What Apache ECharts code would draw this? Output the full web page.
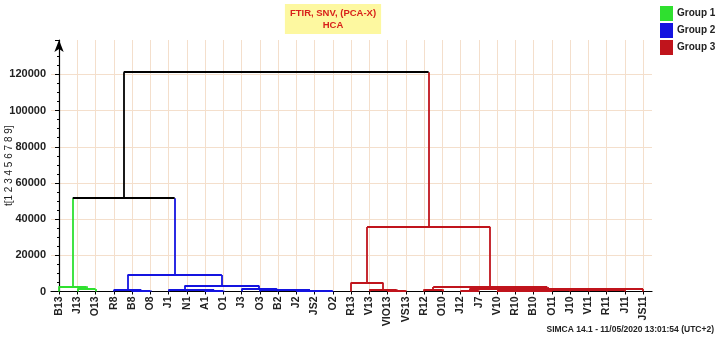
<!DOCTYPE html>
<html>
<head>
<meta charset="utf-8">
<script src="https://cdn.jsdelivr.net/npm/echarts@6/dist/echarts.min.js"></script>
<style>
  html, body { margin: 0; padding: 0; background: #fff; }
  #chart { width: 716px; height: 339px; }
</style>
</head>
<body>
<div id="chart"></div>
<script>
'use strict';

// leaf order along the x axis
var leaves = ['B13', 'J13', 'O13', 'R8', 'B8', 'O8', 'J1', 'N1', 'A1', 'O1', 'J3', 'O3', 'B2', 'J2', 'JS2', 'O2',
  'R13', 'V13', 'VIO13', 'VS13', 'R12', 'O10', 'J12', 'J7', 'V10', 'R10', 'B10', 'O11', 'J10', 'V11', 'R11', 'J11', 'JS11'];
var leafGroup = [1, 1, 1,
  2, 2, 2, 2, 2, 2, 2, 2, 2, 2, 2, 2, 2,
  3, 3, 3, 3, 3, 3, 3, 3, 3, 3, 3, 3, 3, 3, 3, 3, 3];

// [node, left, right, height, group]  (group 0 = black link)
var linkage = [
  ['n1', 'J13', 'O13', 1400, 1],
  ['n2', 'B13', 'n1', 2900, 1],
  ['n3', 'B8', 'O8', 600, 2],
  ['n4', 'R8', 'n3', 1000, 2],
  ['n5', 'A1', 'O1', 400, 2],
  ['n6', 'N1', 'n5', 700, 2],
  ['n7', 'J1', 'n6', 1100, 2],
  ['n8', 'JS2', 'O2', 300, 2],
  ['n9', 'J2', 'n8', 500, 2],
  ['n10', 'B2', 'n9', 800, 2],
  ['n11', 'O3', 'n10', 1200, 2],
  ['n12', 'J3', 'n11', 1500, 2],
  ['n13', 'n7', 'n12', 3200, 2],
  ['n14', 'n4', 'n13', 9100, 2],
  ['n15', 'n2', 'n14', 51600, 0],
  ['n16', 'VIO13', 'VS13', 600, 3],
  ['n17', 'V13', 'n16', 1100, 3],
  ['n18', 'R13', 'n17', 5000, 3],
  ['n19', 'R12', 'O10', 1200, 3],
  ['n20', 'J12', 'J7', 400, 3],
  ['n21', 'V10', 'R10', 300, 3],
  ['n22', 'n21', 'B10', 450, 3],
  ['n23', 'n22', 'O11', 600, 3],
  ['n24', 'n23', 'J10', 750, 3],
  ['n25', 'n24', 'V11', 900, 3],
  ['n26', 'n25', 'R11', 1050, 3],
  ['n27', 'n26', 'J11', 1200, 3],
  ['n28', 'n27', 'JS11', 1400, 3],
  ['n29', 'n20', 'n28', 1700, 3],
  ['n30', 'n19', 'n29', 2500, 3],
  ['n31', 'n18', 'n30', 35700, 3],
  ['n32', 'n15', 'n31', 121200, 0]
];

var groupNames = ['Link', 'Group 1', 'Group 2', 'Group 3'];
var groupColors = ['#000000', '#2fe02f', '#1414e0', '#c0141c'];

// build segments: node x = mean of children x
var pos = {};
var segs = [[], [], [], []];
leaves.forEach(function (name, i) {
  pos[name] = { x: i, y: 0, g: leafGroup[i] };
});
linkage.forEach(function (row) {
  var L = pos[row[1]], R = pos[row[2]], h = row[3], g = row[4];
  segs[L.g].push({ coords: [[L.x, L.y], [L.x, h]] });
  segs[R.g].push({ coords: [[R.x, R.y], [R.x, h]] });
  segs[g].push({ coords: [[L.x, h], [R.x, h]] });
  pos[row[0]] = { x: (L.x + R.x) / 2, y: h, g: g };
});

var gridColor = '#f4dfcc';
var leafTicks = leaves.map(function (n, i) { return i; });

var option = {
  animation: false,
  title: [{
    text: 'FTIR, SNV, (PCA-X)\nHCA',
    left: 328,
    top: 4,
    textAlign: 'center',
    backgroundColor: '#fdf8a0',
    padding: [3, 5, 3, 5],
    textStyle: {
      color: '#d8201a',
      fontSize: 9.5,
      fontWeight: 'bold',
      fontFamily: 'Liberation Sans',
      lineHeight: 12
    }
  }, {
    text: 'SIMCA 14.1 - 11/05/2020 13:01:54 (UTC+2)',
    right: 2,
    bottom: 5,
    padding: 0,
    textStyle: {
      color: '#222',
      fontSize: 8.5,
      fontWeight: 'bold',
      fontFamily: 'Liberation Sans'
    }
  }],
  legend: {
    orient: 'vertical',
    left: 655,
    top: 1,
    itemWidth: 11,
    itemHeight: 13,
    itemGap: 2,
    icon: 'rect',
    data: ['Group 1', 'Group 2', 'Group 3'],
    textStyle: {
      color: '#222',
      fontSize: 10,
      fontWeight: 'bold',
      fontFamily: 'Liberation Sans'
    }
  },
  grid: { left: 51, right: 64, top: 40, bottom: 47.5, outerBoundsMode: 'none', containLabel: false },
  xAxis: {
    type: 'value',
    min: -0.44,
    max: 32.49,
    axisLine: { lineStyle: { color: '#000', width: 1.2 } },
    axisTick: { show: true, customValues: leafTicks, length: 3, lineStyle: { color: '#000' } },
    axisLabel: {
      customValues: leafTicks,
      rotate: 90,
      margin: 5,
      color: '#222',
      fontSize: 10.5,
      fontWeight: 'bold',
      fontFamily: 'Liberation Sans',
      formatter: function (v) { return leaves[Math.round(v)]; }
    },
    splitLine: { show: true, lineStyle: { color: gridColor, width: 1 } }
  },
  yAxis: {
    type: 'value',
    min: 0,
    max: 139000,
    interval: 20000,
    name: 't[1 2 3 4 5 6 7 8 9]',
    nameLocation: 'middle',
    nameGap: 37,
    nameMoveOverlap: false,
    nameTextStyle: { color: '#222', fontSize: 10, fontFamily: 'Liberation Sans' },
    axisLine: { show: true, symbol: ['none', 'arrow'], symbolSize: [7, 12], lineStyle: { color: '#000', width: 1.2 } },
    axisTick: { show: true, length: 4, lineStyle: { color: '#000' } },
    minorTick: { show: true, splitNumber: 4, length: 2, lineStyle: { color: '#000' } },
    axisLabel: {
      showMaxLabel: false,
      margin: 5,
      color: '#222',
      fontSize: 11,
      fontWeight: 'bold',
      fontFamily: 'Liberation Sans',
      formatter: function (v) { return String(v); }
    },
    splitLine: {
      show: true,
      lineStyle: { color: [gridColor, gridColor, gridColor, gridColor, gridColor, gridColor, gridColor, 'rgba(0,0,0,0)'], width: 1 }
    }
  },
  series: segs.map(function (data, g) {
    return {
      name: groupNames[g],
      type: 'lines',
      coordinateSystem: 'cartesian2d',
      silent: true,
      z: g === 0 ? 3 : 2,
      itemStyle: { color: groupColors[g] },
      lineStyle: { color: groupColors[g], width: 1.8, opacity: 1 },
      data: data
    };
  })
};

var myChart = echarts.init(document.getElementById('chart'));
myChart.setOption(option);
</script>
</body>
</html>
